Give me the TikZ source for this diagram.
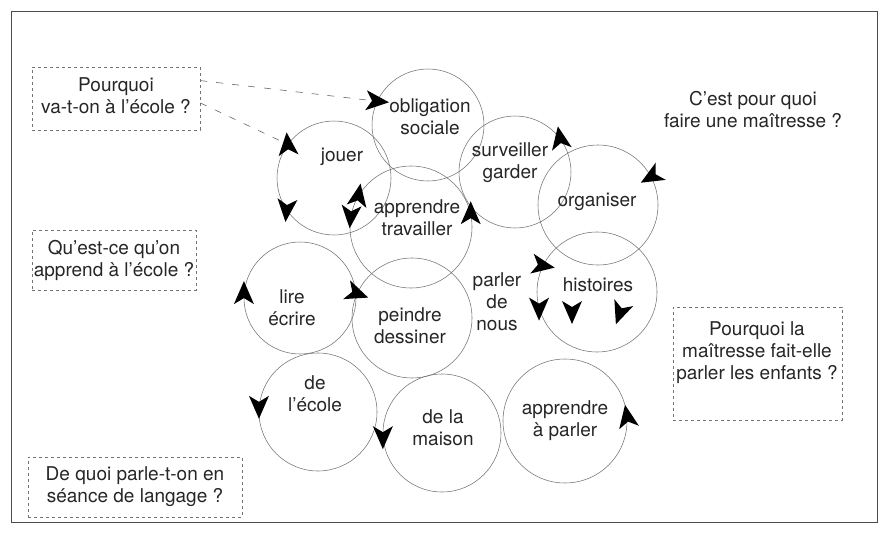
\documentclass[tikz,border=0pt]{standalone}
\usepackage{fontspec}
\setmainfont{TeX Gyre Heros}

\begin{document}
\begin{tikzpicture}[x=1pt,y=-1pt,
    ring/.style ={circle, draw=black!55, line width=0.55pt, inner sep=0pt},
    word/.style ={align=center, inner sep=0pt, text=black!85,
                  font=\fontsize{19}{22}\selectfont},
    question/.style ={draw=black!55, dashed, line width=0.6pt, inner sep=0pt},
    link/.style ={draw=black!60, dash pattern=on 7pt off 9pt, line width=0.6pt},
    headmark/.pic ={\fill (12pt,0pt) -- (-11pt,10pt) -- (-5pt,0pt) -- (-11pt,-10pt) -- cycle;}]
   \useasboundingbox (0,0) rectangle (881,538);
   \draw[black!70, line width=0.7pt] (11,11) rectangle (877,522);

   % questions
   \node[question, minimum width=168pt, minimum height=63pt] (q1) at (116,98.5) {};
   \node[question, minimum width=164pt, minimum height=60pt] (q2) at (114,260) {};
   \node[question, minimum width=214pt, minimum height=60pt] (q3) at (135,487) {};
   \node[question, minimum width=169pt, minimum height=113pt] (q4) at (757.5,363.5) {};
   \node[word] (q1-t) at (116,96) {Pourquoi\\va-t-on à l'école ?};
   \node[word] (q2-t) at (114,260) {Qu'est-ce qu'on\\apprend à l'école ?};
   \node[word] (q3-t) at (135,487) {De quoi parle-t-on en\\séance de langage ?};
   \node[word] (q4-t) at (757,353) {Pourquoi la\\maîtresse fait-elle\\parler les enfants ?};
   \node[word] (q5-t) at (753,110) {C'est pour quoi\\faire une maîtresse ?};

   % circles
   \node[ring, minimum size=112pt] (obl) at (428,125) {};
   \node[ring, minimum size=114pt] (jou) at (334,178) {};
   \node[ring, minimum size=122pt] (app) at (411,227) {};
   \node[ring, minimum size=112pt] (sur) at (515,172) {};
   \node[ring, minimum size=120pt] (org) at (598,205) {};
   \node[ring, minimum size=112pt] (lir) at (300,298) {};
   \node[ring, minimum size=120pt] (pei) at (412,318) {};
   \node[ring, minimum size=120pt] (his) at (597,292) {};
   \node[ring, minimum size=118pt] (eco) at (318,412) {};
   \node[ring, minimum size=118pt] (mai) at (442,433) {};
   \node[ring, minimum size=124pt] (apa) at (565,421) {};

   \node[word] (obl-t) at (430,117) {obligation\\sociale};
   \node[word] (jou-t) at (342,157) {jouer};
   \node[word] (app-t) at (417,218) {apprendre\\travailler};
   \node[word] (sur-t) at (510,163) {surveiller\\garder};
   \node[word] (org-t) at (597,202) {organiser};
   \node[word] (lir-t) at (292,308) {lire\\écrire};
   \node[word] (pei-t) at (410,326) {peindre\\dessiner};
   \node[word] (par-t) at (497,302) {parler\\de\\nous};
   \node[word] (his-t) at (598,285) {histoires};
   \node[word] (eco-t) at (315,394) {de\\l'école};
   \node[word] (mai-t) at (443,428) {de la\\maison};
   \node[word] (apa-t) at (565,421) {apprendre\\à parler};

   \draw[link] (q1.12) -- (obl.155);
   \draw[link] (q1.-3) -- (jou.144);

   % turning marks
   \pic[rotate=-5]  at (obl.155) {headmark};
   \pic[rotate=95]  at (jou.144) {headmark};
   \pic[rotate=-95] at (jou.214) {headmark};
   \pic[rotate=80]  at (app.149) {headmark};
   \pic[rotate=-95] at (app.170) {headmark};
   \pic[rotate=90]  at (app.13)  {headmark};
   \pic[rotate=100] at (sur.37)  {headmark};
   \pic[rotate=210] at (org.28)  {headmark};
   \pic[rotate=-10] at (his.154) {headmark};
   \pic[rotate=-90] at (his.196) {headmark};
   \pic[rotate=-90] at (572,312) {headmark};
   \pic[rotate=-110] at (620,313) {headmark};
   \pic[rotate=90]  at (lir.175) {headmark};
   \pic[rotate=-20] at (pei.156) {headmark};
   \pic[rotate=-90] at (eco.175) {headmark};
   \pic[rotate=-90] at (mai.184) {headmark};
   \pic[rotate=100] at (apa.4)   {headmark};
 \end{tikzpicture}
\end{document}
